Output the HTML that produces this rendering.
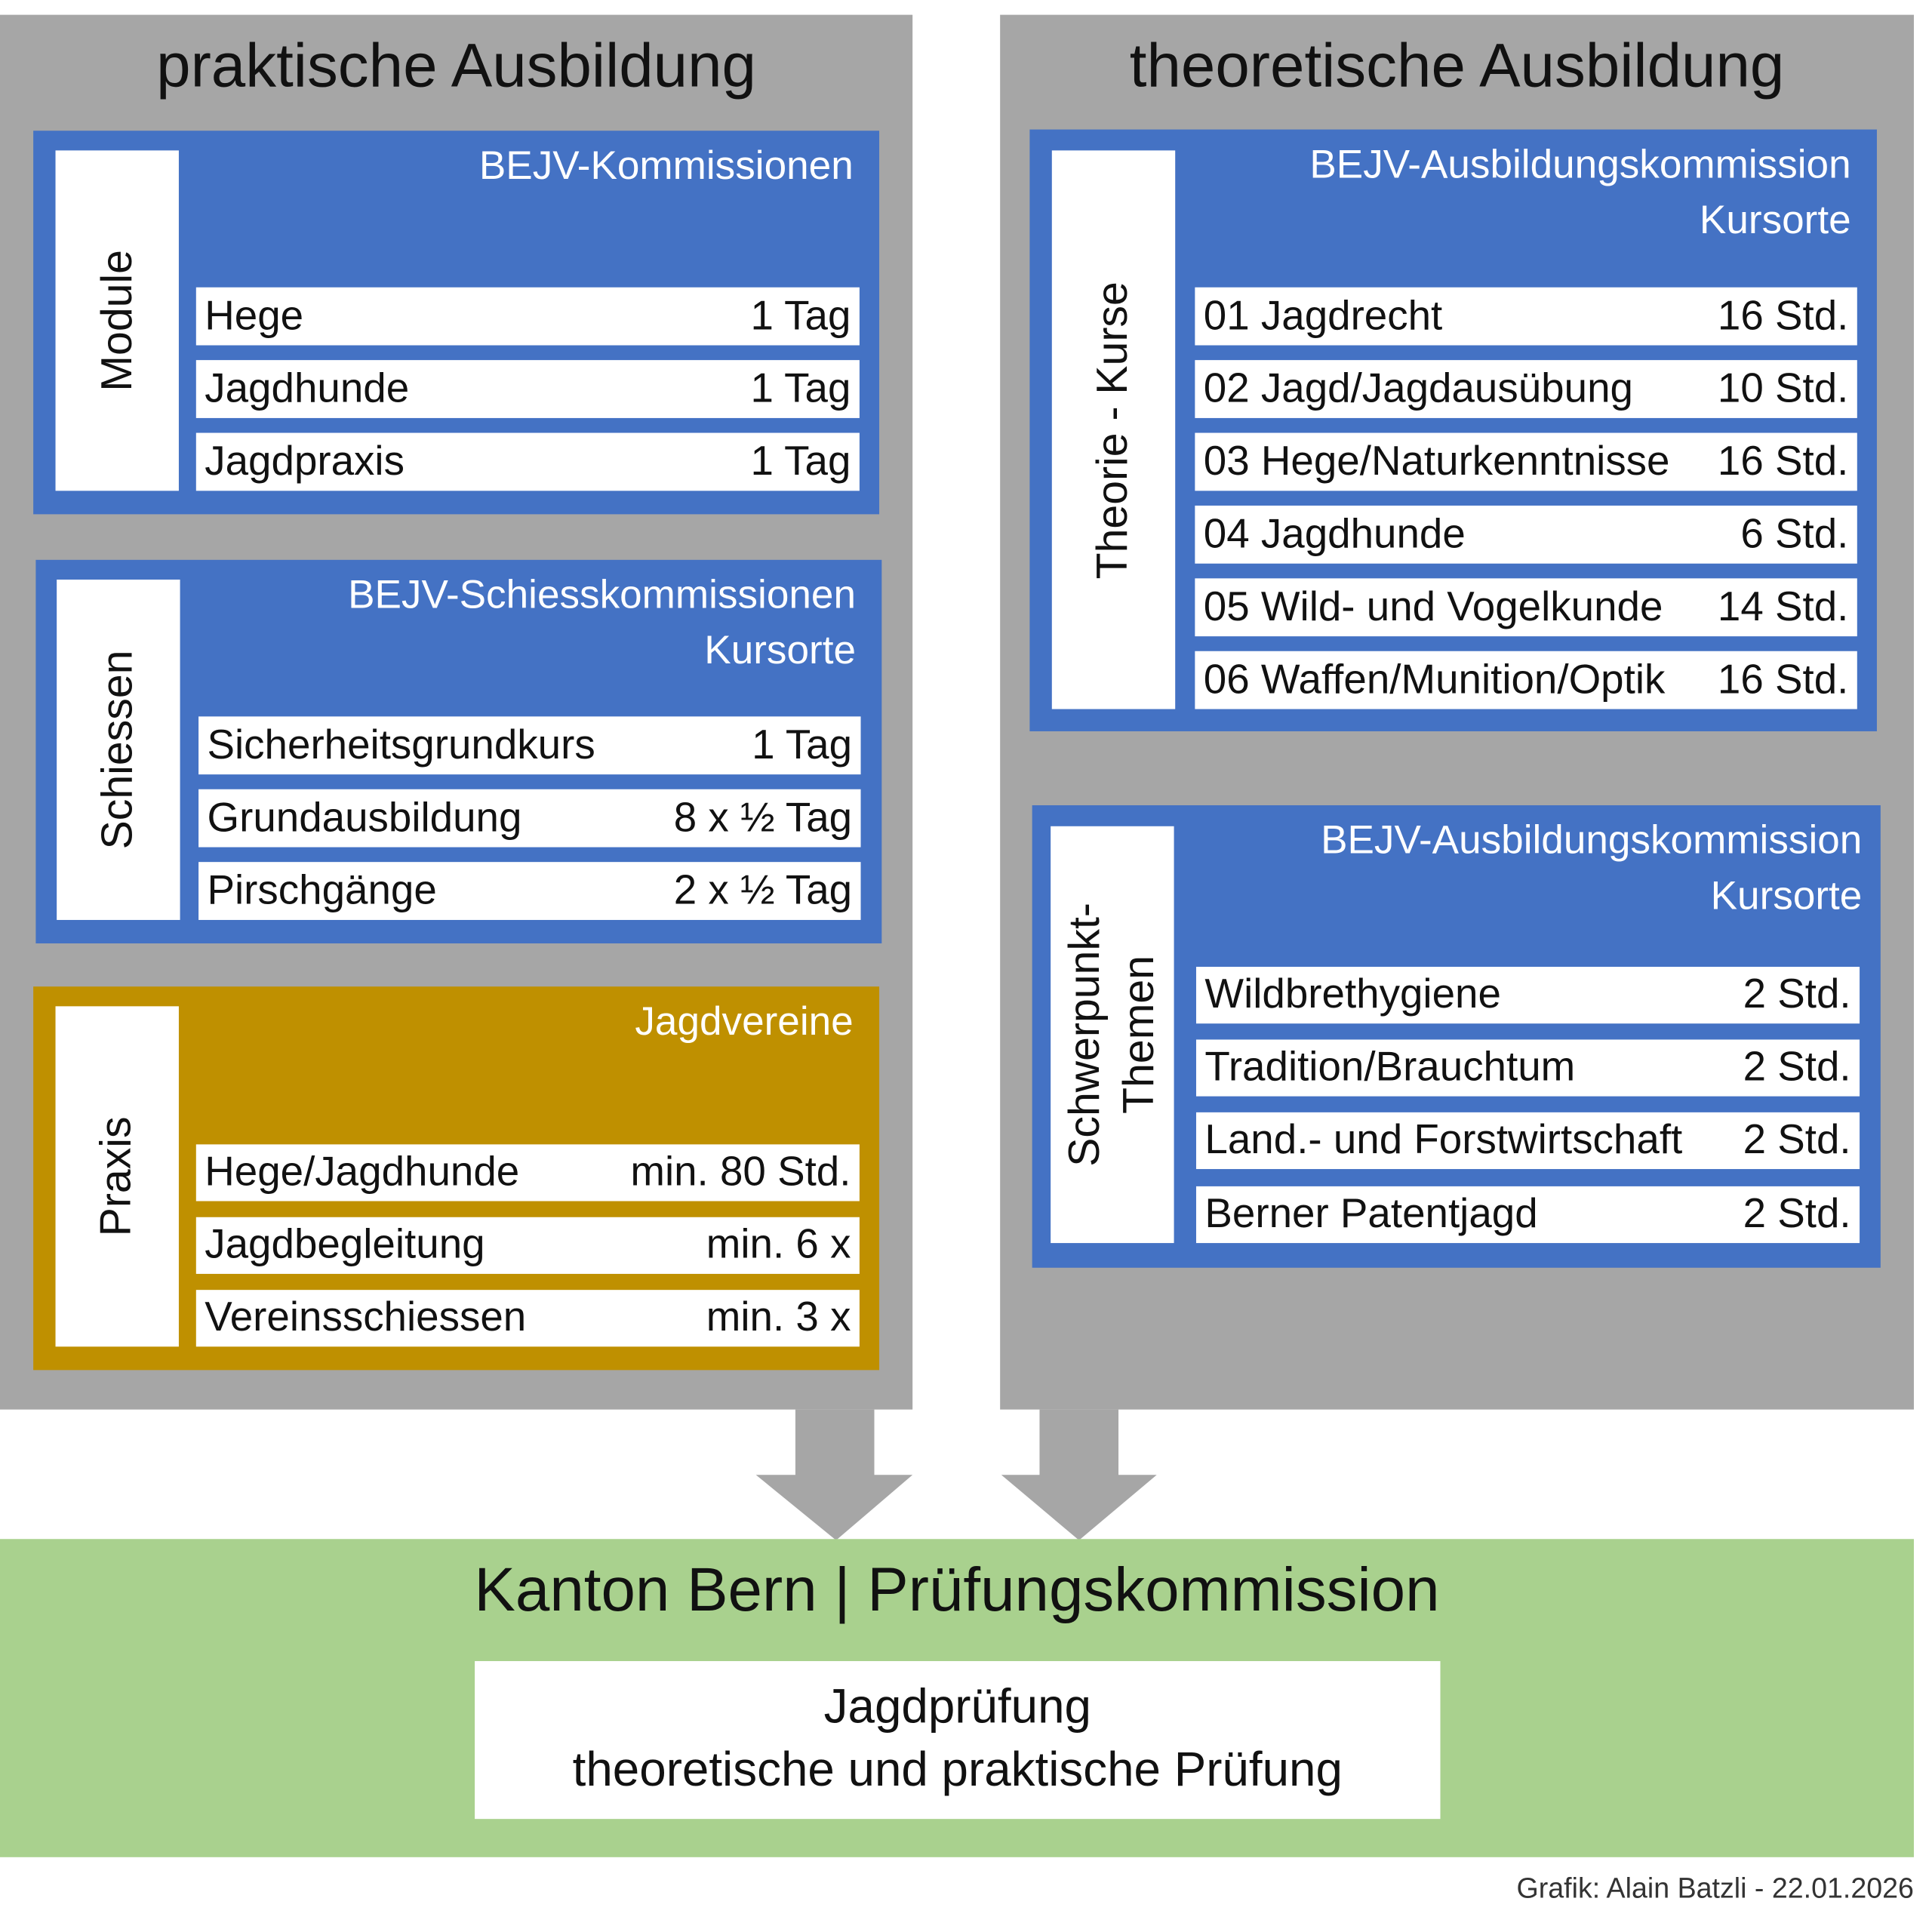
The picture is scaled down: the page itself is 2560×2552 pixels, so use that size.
<!DOCTYPE html>
<html><head><meta charset="utf-8"><style>
*{margin:0;padding:0;box-sizing:border-box}
html,body{width:2560px;height:2552px;overflow:hidden;background:#fff}
#s{position:absolute;left:0;top:0;width:1567px;height:1562px;transform:scale(1.6340);transform-origin:0 0;font-family:"Liberation Sans",sans-serif}
.a{position:absolute}
.g{background:#a6a6a6}
.b{background:#4472c4}
.o{background:#bf9000}
.w{background:#fff}
.t{position:absolute;font-size:50px;color:#111;text-align:center;line-height:1}
.h{position:absolute;color:#fff;font-size:32.5px;text-align:right;line-height:45px}
.r{position:absolute;background:#fff;display:flex;justify-content:space-between;align-items:center;padding:0 7px;font-size:33.5px;color:#111;white-space:nowrap}
.v{position:absolute;background:#fff;display:flex;align-items:center;justify-content:center}
.v span{transform:rotate(-90deg);white-space:nowrap;font-size:35px;color:#111;text-align:center;line-height:44px;display:block}
</style></head><body><div id="s">
<div class="a g" style="left:0;top:12px;width:740px;height:1131px"></div>
<div class="a g" style="left:811px;top:12px;width:741px;height:1131px"></div>
<div class="t" style="left:0;width:740px;top:28px">praktische Ausbildung</div>
<div class="t" style="left:811px;width:741px;top:28px">theoretische Ausbildung</div>

<div class="a b" style="left:27px;top:106px;width:686px;height:311px"></div>
<div class="v" style="left:45px;top:122px;width:100px;height:276px"><span>Module</span></div>
<div class="h" style="left:160px;width:532px;top:112px">BEJV-Kommissionen</div>
<div class="r" style="left:159px;top:233px;width:538px;height:47px"><span>Hege</span><span>1 Tag</span></div>
<div class="r" style="left:159px;top:292px;width:538px;height:47px"><span>Jagdhunde</span><span>1 Tag</span></div>
<div class="r" style="left:159px;top:351px;width:538px;height:47px"><span>Jagdpraxis</span><span>1 Tag</span></div>

<div class="a b" style="left:29px;top:454px;width:686px;height:311px"></div>
<div class="v" style="left:46px;top:470px;width:100px;height:276px"><span>Schiessen</span></div>
<div class="h" style="left:160px;width:534px;top:460px">BEJV-Schiesskommissionen<br>Kursorte</div>
<div class="r" style="left:161px;top:581px;width:537px;height:47px"><span>Sicherheitsgrundkurs</span><span>1 Tag</span></div>
<div class="r" style="left:161px;top:640px;width:537px;height:47px"><span>Grundausbildung</span><span>8 x ½ Tag</span></div>
<div class="r" style="left:161px;top:699px;width:537px;height:47px"><span>Pirschgänge</span><span>2 x ½ Tag</span></div>

<div class="a o" style="left:27px;top:800px;width:686px;height:311px"></div>
<div class="v" style="left:45px;top:816px;width:100px;height:276px"><span>Praxis</span></div>
<div class="h" style="left:160px;width:532px;top:806px">Jagdvereine</div>
<div class="r" style="left:159px;top:928px;width:538px;height:46px"><span>Hege/Jagdhunde</span><span>min. 80 Std.</span></div>
<div class="r" style="left:159px;top:987px;width:538px;height:46px"><span>Jagdbegleitung</span><span>min. 6 x</span></div>
<div class="r" style="left:159px;top:1046px;width:538px;height:46px"><span>Vereinsschiessen</span><span>min. 3 x</span></div>

<div class="a b" style="left:835px;top:105px;width:687px;height:488px"></div>
<div class="v" style="left:853px;top:122px;width:100px;height:453px"><span>Theorie - Kurse</span></div>
<div class="h" style="left:960px;width:541px;top:111px">BEJV-Ausbildungskommission<br>Kursorte</div>
<div class="r" style="left:969px;top:233px;width:537px;height:47px"><span>01 Jagdrecht</span><span>16 Std.</span></div>
<div class="r" style="left:969px;top:292px;width:537px;height:47px"><span>02 Jagd/Jagdausübung</span><span>10 Std.</span></div>
<div class="r" style="left:969px;top:351px;width:537px;height:47px"><span>03 Hege/Naturkenntnisse</span><span>16 Std.</span></div>
<div class="r" style="left:969px;top:410px;width:537px;height:47px"><span>04 Jagdhunde</span><span>6 Std.</span></div>
<div class="r" style="left:969px;top:469px;width:537px;height:47px"><span>05 Wild- und Vogelkunde</span><span>14 Std.</span></div>
<div class="r" style="left:969px;top:528px;width:537px;height:47px"><span>06 Waffen/Munition/Optik</span><span>16 Std.</span></div>

<div class="a b" style="left:837px;top:653px;width:688px;height:375px"></div>
<div class="v" style="left:852px;top:670px;width:100px;height:338px"><span>Schwerpunkt-<br>Themen</span></div>
<div class="h" style="left:960px;width:550px;top:659px">BEJV-Ausbildungskommission<br>Kursorte</div>
<div class="r" style="left:970px;top:784px;width:538px;height:46px"><span>Wildbrethygiene</span><span>2 Std.</span></div>
<div class="r" style="left:970px;top:843px;width:538px;height:46px"><span>Tradition/Brauchtum</span><span>2 Std.</span></div>
<div class="r" style="left:970px;top:902px;width:538px;height:46px"><span>Land.- und Forstwirtschaft</span><span>2 Std.</span></div>
<div class="r" style="left:970px;top:962px;width:538px;height:46px"><span>Berner Patentjagd</span><span>2 Std.</span></div>

<svg class="a" style="left:0;top:0" width="1567" height="1562">
<polygon fill="#a6a6a6" points="645,1143 709,1143 709,1196 740,1196 678,1249 613,1196 645,1196"/>
<polygon fill="#a6a6a6" points="843,1143 907,1143 907,1196 938,1196 875,1249 812,1196 843,1196"/>
</svg>
<div class="a" style="left:0;top:1248px;width:1552px;height:258px;background:#a9d18e"></div>
<div class="t" style="left:0;width:1552px;top:1264px;font-size:50px">Kanton Bern | Prüfungskommission</div>
<div class="a w" style="left:385px;top:1347px;width:783px;height:128px;text-align:center;font-size:39px;line-height:51px;color:#111;padding-top:12px">Jagdprüfung<br>theoretische und praktische Prüfung</div>
<div class="a" style="left:1100px;width:452px;top:1518px;font-size:23px;color:#333;text-align:right">Grafik: Alain Batzli - 22.01.2026</div>
</div></body></html>
